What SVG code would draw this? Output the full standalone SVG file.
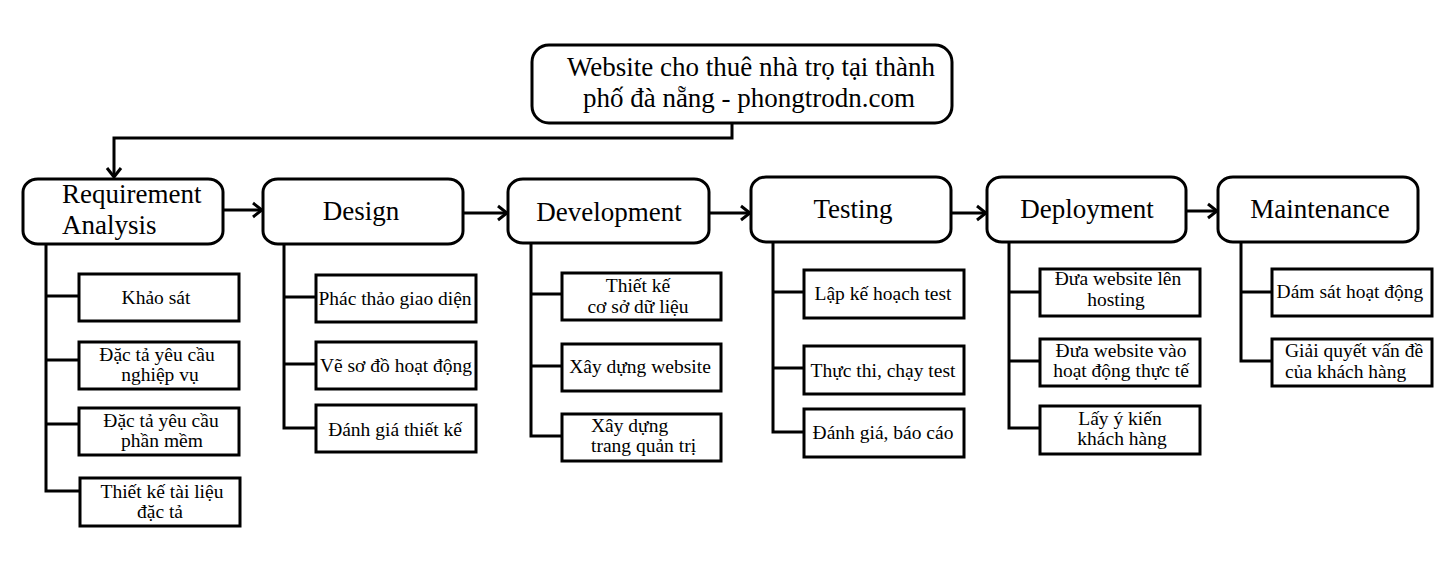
<svg xmlns="http://www.w3.org/2000/svg" width="1452" height="573" viewBox="0 0 1452 573">
<style>
.main{fill:#fff;stroke:#000;stroke-width:3}
.box{fill:#fff;stroke:#000;stroke-width:3}
.conn{fill:none;stroke:#000;stroke-width:3}
.t{font-family:"Liberation Serif","Times New Roman",serif;fill:#000}
.big{font-size:27px}
.sm{font-size:19.5px}
.c{text-anchor:middle}
</style>
<defs>
<marker id="arr" markerUnits="userSpaceOnUse" markerWidth="14" markerHeight="18" viewBox="-12 -9 14 18" refX="0" refY="0" orient="auto">
<path d="M-9,-7 L0,0 L-9,7" fill="none" stroke="#000" stroke-width="3"/>
</marker>
</defs>
<rect width="1452" height="573" fill="#fff"/>
<g id="connectors">
<path class="conn" d="M732,123 V138 H114 V177" marker-end="url(#arr)"/>
<path class="conn" d="M223,210 H262" marker-end="url(#arr)"/>
<path class="conn" d="M463,213 H507" marker-end="url(#arr)"/>
<path class="conn" d="M709,213 H750" marker-end="url(#arr)"/>
<path class="conn" d="M951,213 H986" marker-end="url(#arr)"/>
<path class="conn" d="M1186,211 H1217" marker-end="url(#arr)"/>
<path class="conn" d="M46,244 V491 H80 M46,296 H79 M46,360 H79 M46,424 H79"/>
<path class="conn" d="M284,244 V428 H316 M284,297 H316 M284,364 H316"/>
<path class="conn" d="M531,243 V436 H562 M531,294 H562 M531,366 H562"/>
<path class="conn" d="M773,242 V432 H804 M773,292 H804 M773,368 H804"/>
<path class="conn" d="M1009,242 V428 H1040 M1009,292 H1040 M1009,361 H1040"/>
<path class="conn" d="M1241,242 V361 H1272 M1241,292 H1272"/>
</g>
<g id="root">
<rect class="main" x="532" y="45" width="420" height="78" rx="17" ry="17"/>
<text class="t big c" x="751" y="76">Website cho thuê nhà trọ tại thành</text>
<text class="t big c" x="749" y="107">phố đà nẵng - phongtrodn.com</text>
</g>
<g id="req">
<rect class="main" x="23" y="179" width="200" height="65" rx="15" ry="13"/>
<text class="t big" x="62" y="203">Requirement</text>
<text class="t big" x="62" y="234">Analysis</text>
</g>
<g id="design">
<rect class="main" x="263" y="179" width="200" height="65" rx="15" ry="13"/>
<text class="t big c" x="361" y="220">Design</text>
</g>
<g id="dev">
<rect class="main" x="508" y="179" width="201" height="64" rx="15" ry="13"/>
<text class="t big c" x="609" y="221">Development</text>
</g>
<g id="testing">
<rect class="main" x="751" y="177" width="200" height="65" rx="15" ry="13"/>
<text class="t big c" x="853" y="218">Testing</text>
</g>
<g id="deploy">
<rect class="main" x="987" y="177" width="199" height="65" rx="15" ry="13"/>
<text class="t big c" x="1087" y="218">Deployment</text>
</g>
<g id="maint">
<rect class="main" x="1218" y="177" width="200" height="65" rx="15" ry="13"/>
<text class="t big c" x="1320" y="218">Maintenance</text>
</g>
<g id="req1"><rect class="box" x="79" y="274" width="160" height="47"/><text class="t sm c" x="156" y="304">Khảo sát</text></g>
<g id="req2"><rect class="box" x="79" y="342" width="160" height="47"/><text class="t sm c" x="157" y="361">Đặc tả yêu cầu</text><text class="t sm c" x="160" y="381">nghiệp vụ</text></g>
<g id="req3"><rect class="box" x="79" y="408" width="160" height="47"/><text class="t sm c" x="161" y="427">Đặc tả yêu cầu</text><text class="t sm c" x="162" y="447">phần mềm</text></g>
<g id="req4"><rect class="box" x="80" y="478" width="160" height="48"/><text class="t sm c" x="162" y="498">Thiết kế tài liệu</text><text class="t sm c" x="160" y="518">đặc tả</text></g>
<g id="des1"><rect class="box" x="316" y="275" width="160" height="47"/><text class="t sm c" x="395" y="305">Phác thảo giao diện</text></g>
<g id="des2"><rect class="box" x="316" y="342" width="160" height="47"/><text class="t sm c" x="396" y="372">Vẽ sơ đồ hoạt động</text></g>
<g id="des3"><rect class="box" x="316" y="405" width="160" height="47"/><text class="t sm c" x="395" y="436">Đánh giá thiết kế</text></g>
<g id="dev1"><rect class="box" x="562" y="273" width="159" height="47"/><text class="t sm c" x="638" y="292">Thiết kế</text><text class="t sm c" x="638" y="313">cơ sở dữ liệu</text></g>
<g id="dev2"><rect class="box" x="562" y="344" width="159" height="47"/><text class="t sm c" x="640" y="373">Xây dựng website</text></g>
<g id="dev3"><rect class="box" x="562" y="414" width="159" height="47"/><text class="t sm" x="591" y="432">Xây dựng</text><text class="t sm" x="591" y="452">trang quản trị</text></g>
<g id="test1"><rect class="box" x="804" y="270" width="160" height="48"/><text class="t sm c" x="883" y="300">Lập kế hoạch test</text></g>
<g id="test2"><rect class="box" x="804" y="346" width="160" height="48"/><text class="t sm c" x="883" y="377">Thực thi, chạy test</text></g>
<g id="test3"><rect class="box" x="804" y="409" width="160" height="48"/><text class="t sm c" x="883" y="439">Đánh giá, báo cáo</text></g>
<g id="dep1"><rect class="box" x="1040" y="269" width="160" height="47"/><text class="t sm c" x="1118" y="285">Đưa website lên</text><text class="t sm c" x="1116" y="306">hosting</text></g>
<g id="dep2"><rect class="box" x="1040" y="339" width="160" height="47"/><text class="t sm c" x="1121" y="357">Đưa website vào</text><text class="t sm c" x="1121" y="377">hoạt động thực tế</text></g>
<g id="dep3"><rect class="box" x="1040" y="406" width="160" height="48"/><text class="t sm c" x="1120" y="425">Lấy ý kiến</text><text class="t sm c" x="1122" y="445">khách hàng</text></g>
<g id="mt1"><rect class="box" x="1272" y="269" width="160" height="47"/><text class="t sm c" x="1350" y="298">Dám sát hoạt động</text></g>
<g id="mt2"><rect class="box" x="1272" y="339" width="160" height="47"/><text class="t sm" x="1285" y="357">Giải quyết vấn đề</text><text class="t sm" x="1285" y="378">của khách hàng</text></g>
</svg>
